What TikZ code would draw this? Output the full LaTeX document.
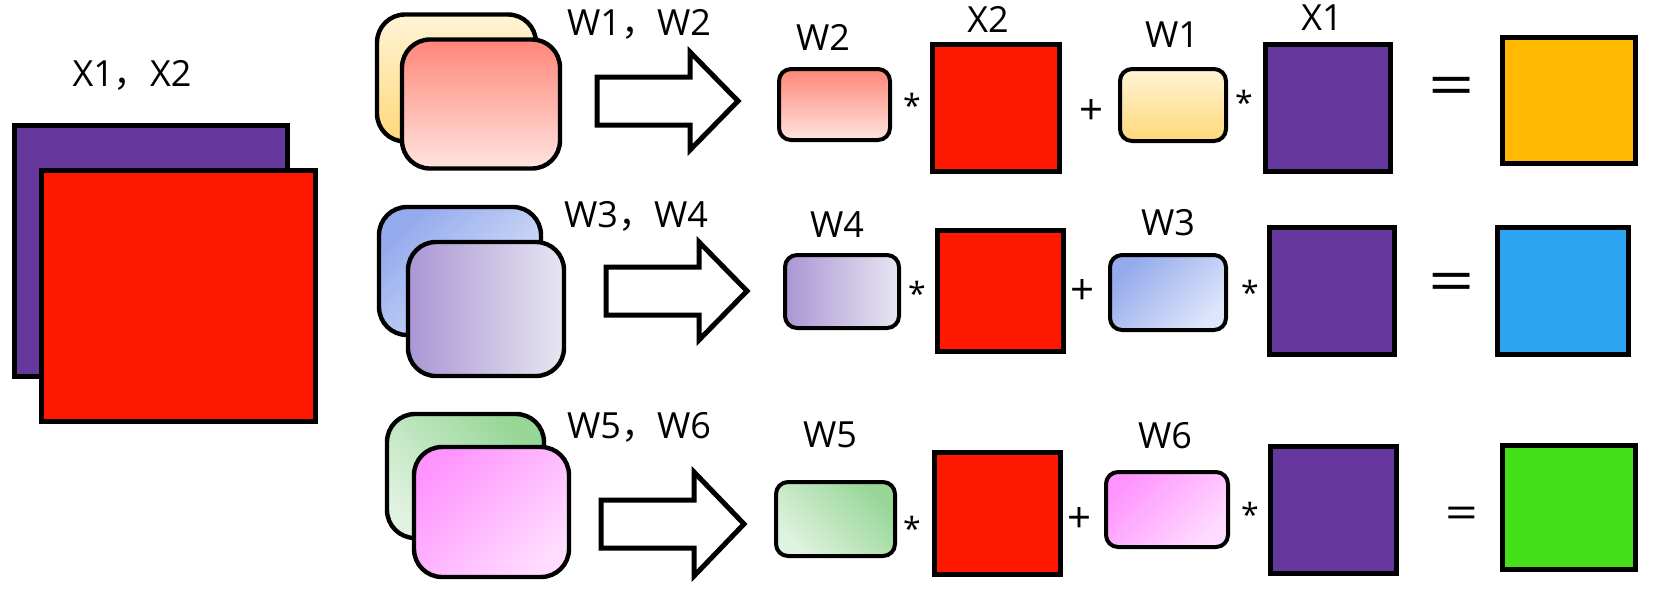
\documentclass[tikz,border=0pt]{standalone}
\usepackage{fontspec}
\setmainfont{Open Sans}
\newfontfamily\cjkf{Noto Sans CJK SC}
\newcommand{\cm}{{\cjkf ，}}
\definecolor{cpurple}{RGB}{102,56,158}
\definecolor{cred}{RGB}{255,24,0}
\definecolor{corange}{RGB}{255,185,0}
\definecolor{cblue}{RGB}{46,163,242}
\definecolor{cgreen}{RGB}{70,224,26}
\definecolor{ylight}{RGB}{255,244,214}
\definecolor{ydark}{RGB}{255,216,120}
\definecolor{rdark}{RGB}{255,134,120}
\definecolor{rlight}{RGB}{255,228,224}
\definecolor{bdark}{RGB}{148,170,236}
\definecolor{blight}{RGB}{222,230,250}
\definecolor{pdark}{RGB}{170,150,212}
\definecolor{plight}{RGB}{232,230,242}
\definecolor{gdark}{RGB}{150,214,150}
\definecolor{glight}{RGB}{224,242,224}
\definecolor{kdark}{RGB}{255,148,255}
\definecolor{klight}{RGB}{255,220,255}
\tikzset{
  sq/.style={draw=black, line width=2.5pt, inner sep=0pt},
  wbig/.style={draw=black, line width=2.2pt, rounded corners=14pt, inner sep=0pt},
  wsmall/.style={draw=black, line width=2pt, rounded corners=6pt, inner sep=0pt},
  lbl/.style={font=\fontsize{18}{21}\selectfont, inner sep=0pt, anchor=base},
  star/.style={font=\fontsize{16}{19}\selectfont, inner sep=0pt},
  plus/.style={font=\fontsize{21}{25}\selectfont, inner sep=0pt},
  eq/.style={inner sep=0pt},
  blockarrow/.style={draw=black, line width=2.5pt, fill=white, line join=miter},
  shY/.style={top color=ylight, bottom color=ydark},
  shR/.style={top color=rdark, bottom color=rlight},
  shB/.style={top color=bdark, bottom color=blight, shading angle=45},
  shP/.style={left color=pdark, right color=plight},
  shG/.style={top color=gdark, bottom color=glight, shading angle=-45},
  shK/.style={top color=kdark, bottom color=klight, shading angle=45},
}
\newcommand{\bigeq}{\fontsize{30}{34}\selectfont\scalebox{1.35}[1]{=}}
\newcommand{\smalleq}{\fontsize{22}{26}\selectfont\scalebox{1.3}[1]{=}}
\begin{document}
\begin{tikzpicture}[x=0.5pt, y=-0.5pt]
\useasboundingbox (0,0) rectangle (1655,596);
% input stack
\node[lbl] (xlab) at (132,86) {X1\cm X2};
\node[sq, fill=cpurple, minimum width=136.5pt, minimum height=125.5pt] (bigx1) at (150.5,250.5) {};
\node[sq, fill=cred, minimum width=137pt, minimum height=125.5pt] (bigx2) at (178,295.5) {};
% weight stacks
\node[wbig, shY, minimum width=79.5pt, minimum height=63.5pt] (s1b) at (456.5,78) {};
\node[wbig, shR, minimum width=79pt, minimum height=64.5pt] (s1f) at (481,104) {};
\node[wbig, shB, minimum width=81pt, minimum height=64pt] (s2b) at (460,271) {};
\node[wbig, shP, minimum width=78pt, minimum height=67pt] (s2f) at (486,309) {};
\node[wbig, shG, minimum width=78.5pt, minimum height=62pt] (s3b) at (465.5,476) {};
\node[wbig, shK, minimum width=77.5pt, minimum height=65pt] (s3f) at (491.5,512) {};
\node[lbl] (l12) at (639,35) {W1\cm W2};
\node[lbl] (l34) at (636,227) {W3\cm W4};
\node[lbl] (l56) at (639,438) {W5\cm W6};
% block arrows
\draw[blockarrow] (597,77) -- (690,77) -- (690,52) -- (738,101) -- (690,150) -- (690,125) -- (597,125) -- cycle;
\draw[blockarrow] (606,267) -- (699,267) -- (699,242) -- (747,291) -- (699,340) -- (699,315) -- (606,315) -- cycle;
\draw[blockarrow] (601,500) -- (694,500) -- (694,472) -- (744,524) -- (694,576) -- (694,548) -- (601,548) -- cycle;
% row 1
\node[wsmall, shR, minimum width=55.5pt, minimum height=35.5pt] (w2a) at (834.5,104.5) {};
\node[lbl] (w2al) at (823,50) {W2};
\node[star] (m1a) at (912,105) {*};
\node[sq, fill=cred, minimum width=63.5pt, minimum height=63.5pt] (x2a) at (995.5,107.5) {};
\node[lbl] (x2al) at (988,32) {X2};
\node[plus] (p1) at (1091,112) {+};
\node[wsmall, shY, minimum width=53pt, minimum height=36pt] (w1a) at (1173,105) {};
\node[lbl] (w1al) at (1172,47) {W1};
\node[star] (m1b) at (1244,102) {*};
\node[sq, fill=cpurple, minimum width=62.5pt, minimum height=63.5pt] (x1a) at (1327.5,107.5) {};
\node[lbl] (x1al) at (1322,30) {X1};
\node[eq] (e1) at (1452,91.5) {\bigeq};
\node[sq, fill=corange, minimum width=66.5pt, minimum height=63pt] (o1) at (1568.5,100) {};
% row 2
\node[wsmall, shP, minimum width=57pt, minimum height=36.5pt] (w4a) at (842,291.5) {};
\node[lbl] (w4al) at (837,237) {W4};
\node[star] (m2a) at (917,293) {*};
\node[sq, fill=cred, minimum width=63pt, minimum height=60.5pt] (x2b) at (1000,290.5) {};
\node[plus] (p2) at (1082,292) {+};
\node[wsmall, shB, minimum width=58pt, minimum height=37.5pt] (w3a) at (1168,292.5) {};
\node[lbl] (w3al) at (1168,235) {W3};
\node[star] (m2b) at (1250,292) {*};
\node[sq, fill=cpurple, minimum width=62.5pt, minimum height=63.5pt] (x1b) at (1331.5,290.5) {};
\node[eq] (e2) at (1452,288) {\bigeq};
\node[sq, fill=cblue, minimum width=65.5pt, minimum height=63.5pt] (o2) at (1562.5,290.5) {};
% row 3
\node[wsmall, shG, minimum width=59.5pt, minimum height=37pt] (w5a) at (835.5,519) {};
\node[lbl] (w5al) at (830,447) {W5};
\node[star] (m3a) at (912,528) {*};
\node[sq, fill=cred, minimum width=63pt, minimum height=61pt] (x2c) at (997,513) {};
\node[plus] (p3) at (1079,520) {+};
\node[wsmall, shK, minimum width=61pt, minimum height=37.5pt] (w6a) at (1167,509.5) {};
\node[lbl] (w6al) at (1165,448) {W6};
\node[star] (m3b) at (1250,514) {*};
\node[sq, fill=cpurple, minimum width=63pt, minimum height=63.5pt] (x1c) at (1333,509.5) {};
\node[eq] (e3) at (1462,517.5) {\smalleq};
\node[sq, fill=cgreen, minimum width=66.5pt, minimum height=62pt] (o3) at (1568.5,507) {};
\end{tikzpicture}
\end{document}
